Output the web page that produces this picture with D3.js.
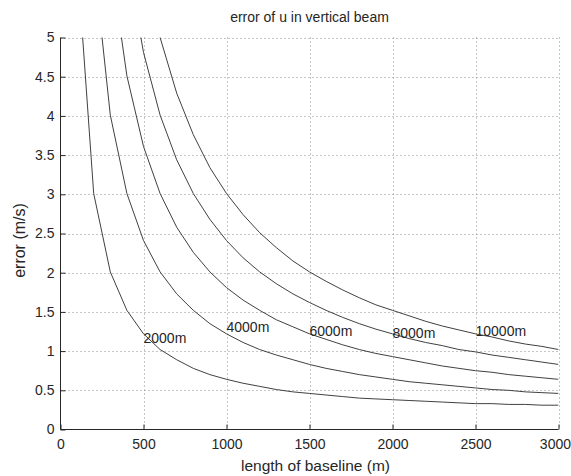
<!DOCTYPE html>
<html>
<head>
<meta charset="utf-8">
<script src="https://cdn.jsdelivr.net/npm/d3@7"></script>
<style>
  body { margin: 0; background: #fff; }
  svg { display: block; font-family: "Liberation Sans", Arial, Helvetica, sans-serif; }
</style>
</head>
<body>
<svg id="chart" width="571" height="476"></svg>
<script>
// ---- data ----
const baseline = [100,200,300,400,500,600,700,800,900,1000,1100,1200,1300,1400,1500,1600,1700,1800,1900,2000,2100,2200,2300,2400,2500,2600,2700,2800,2900,3000];
const heights = ["2000m", "4000m", "6000m", "8000m", "10000m"];
const err2000  = [6.00,3.01,2.01,1.52,1.22,1.02,0.89,0.78,0.70,0.64,0.59,0.55,0.51,0.48,0.46,0.44,0.42,0.40,0.39,0.38,0.37,0.36,0.35,0.34,0.33,0.33,0.32,0.32,0.31,0.31];
const err4000  = [null,6.00,4.01,3.01,2.41,2.01,1.73,1.52,1.35,1.22,1.11,1.02,0.95,0.89,0.83,0.78,0.74,0.70,0.67,0.64,0.61,0.59,0.57,0.55,0.53,0.51,0.50,0.48,0.47,0.46];
const err6000  = [null,null,6.00,4.51,3.61,3.01,2.58,2.26,2.01,1.81,1.65,1.52,1.40,1.31,1.22,1.15,1.08,1.02,0.97,0.93,0.89,0.85,0.81,0.78,0.75,0.73,0.70,0.68,0.66,0.64];
const err8000  = [null,null,null,6.00,4.81,4.01,3.44,3.01,2.68,2.41,2.19,2.01,1.86,1.73,1.62,1.52,1.43,1.35,1.28,1.22,1.16,1.11,1.07,1.02,0.99,0.95,0.92,0.89,0.86,0.83];
const err10000 = [null,null,null,null,6.00,5.00,4.29,3.76,3.34,3.01,2.74,2.51,2.32,2.15,2.01,1.89,1.78,1.68,1.59,1.52,1.45,1.38,1.32,1.27,1.22,1.18,1.13,1.09,1.06,1.02];
const seriesValues = [err2000, err4000, err6000, err8000, err10000];
const labelX = [500, 1000, 1500, 2000, 2500];
const labelY = [1.17, 1.30, 1.25, 1.23, 1.26];
const xTicks = [0,500,1000,1500,2000,2500,3000];
const yTicks = [0,0.5,1,1.5,2,2.5,3,3.5,4,4.5,5];
const yTickLabels = ["0","0.5","1","1.5","2","2.5","3","3.5","4","4.5","5"];
const titleText = "error of u in vertical beam";
const xLabelText = "length of baseline (m)";
const yLabelText = "error (m/s)";

// ---- layout ----
const svg = d3.select("#chart");
const L = 60.5, R = 558.5, T = 37.5, B = 429.5;
const x = d3.scaleLinear().domain([0, 3000]).range([L, R]);
const y = d3.scaleLinear().domain([0, 5]).range([B, T]);
const ink = "#262626";

// grid
const grid = svg.append("g");
grid.selectAll("line.v").data(xTicks.filter(d => d > 0)).join("line")
  .attr("x1", d => Math.round(x(d)) + 0.5).attr("x2", d => Math.round(x(d)) + 0.5)
  .attr("y1", T).attr("y2", B)
  .attr("stroke", "#8c8c8c").attr("stroke-width", 1).attr("stroke-dasharray", "1,3");
grid.selectAll("line.h").data(yTicks.filter(d => d > 0)).join("line")
  .attr("y1", d => Math.round(y(d)) + 0.5).attr("y2", d => Math.round(y(d)) + 0.5)
  .attr("x1", L).attr("x2", R)
  .attr("stroke", "#8c8c8c").attr("stroke-width", 1).attr("stroke-dasharray", "1,3");

// clip
svg.append("clipPath").attr("id", "clip").append("rect")
  .attr("x", L).attr("y", T).attr("width", R - L).attr("height", B - T);

// curves
const line = d3.line()
  .defined(d => d[1] !== null)
  .x(d => x(d[0])).y(d => y(d[1]));
svg.append("g").attr("clip-path", "url(#clip)")
  .selectAll("path").data(seriesValues).join("path")
  .attr("d", vals => line(baseline.map((b, i) => [b, vals[i]])))
  .attr("fill", "none").attr("stroke", "#404040").attr("stroke-width", 1);

// axes
const xAxis = d3.axisBottom(x).tickValues(xTicks).tickSize(-5).tickPadding(10).tickFormat(d3.format("d"));
const yAxis = d3.axisLeft(y).tickValues(yTicks).tickSize(-5).tickPadding(6).tickFormat((d, i) => yTickLabels[i]);
const gx = svg.append("g").attr("transform", `translate(0,${B})`).call(xAxis);
const gy = svg.append("g").attr("transform", `translate(${L},0)`).call(yAxis);
[gx, gy].forEach(g => {
  g.select(".domain").attr("stroke", ink).attr("stroke-width", 1);
  g.selectAll(".tick line").attr("stroke", ink);
  g.selectAll(".tick text").attr("fill", ink).attr("font-size", 14)
    .attr("font-family", "Liberation Sans, Arial, sans-serif");
});
gx.select(".domain").attr("d", `M${L},0H${R}`);
gy.select(".domain").attr("d", `M0,${T}V${B}`);
gx.selectAll(".tick text").filter(d => d === 3000).attr("text-anchor", "end").attr("x", 12);

// labels on curves
svg.append("g").selectAll("text").data(heights).join("text")
  .attr("x", (d, i) => x(labelX[i]))
  .attr("y", (d, i) => y(labelY[i]))
  .attr("dy", "0.35em")
  .attr("font-size", 14).attr("fill", ink)
  .text(d => d);

// title & axis labels
svg.append("text").attr("x", (L + R) / 2).attr("y", 22).attr("text-anchor", "middle")
  .attr("font-size", 14).attr("fill", ink).text(titleText);
svg.append("text").attr("x", (L + R) / 2 + 6).attr("y", 471).attr("text-anchor", "middle")
  .attr("font-size", 15.5).attr("fill", ink).text(xLabelText);
svg.append("text").attr("transform", `translate(25,${(T + B) / 2 + 7}) rotate(-90)`)
  .attr("text-anchor", "middle").attr("font-size", 16).attr("fill", ink).text(yLabelText);
</script>
</body>
</html>
